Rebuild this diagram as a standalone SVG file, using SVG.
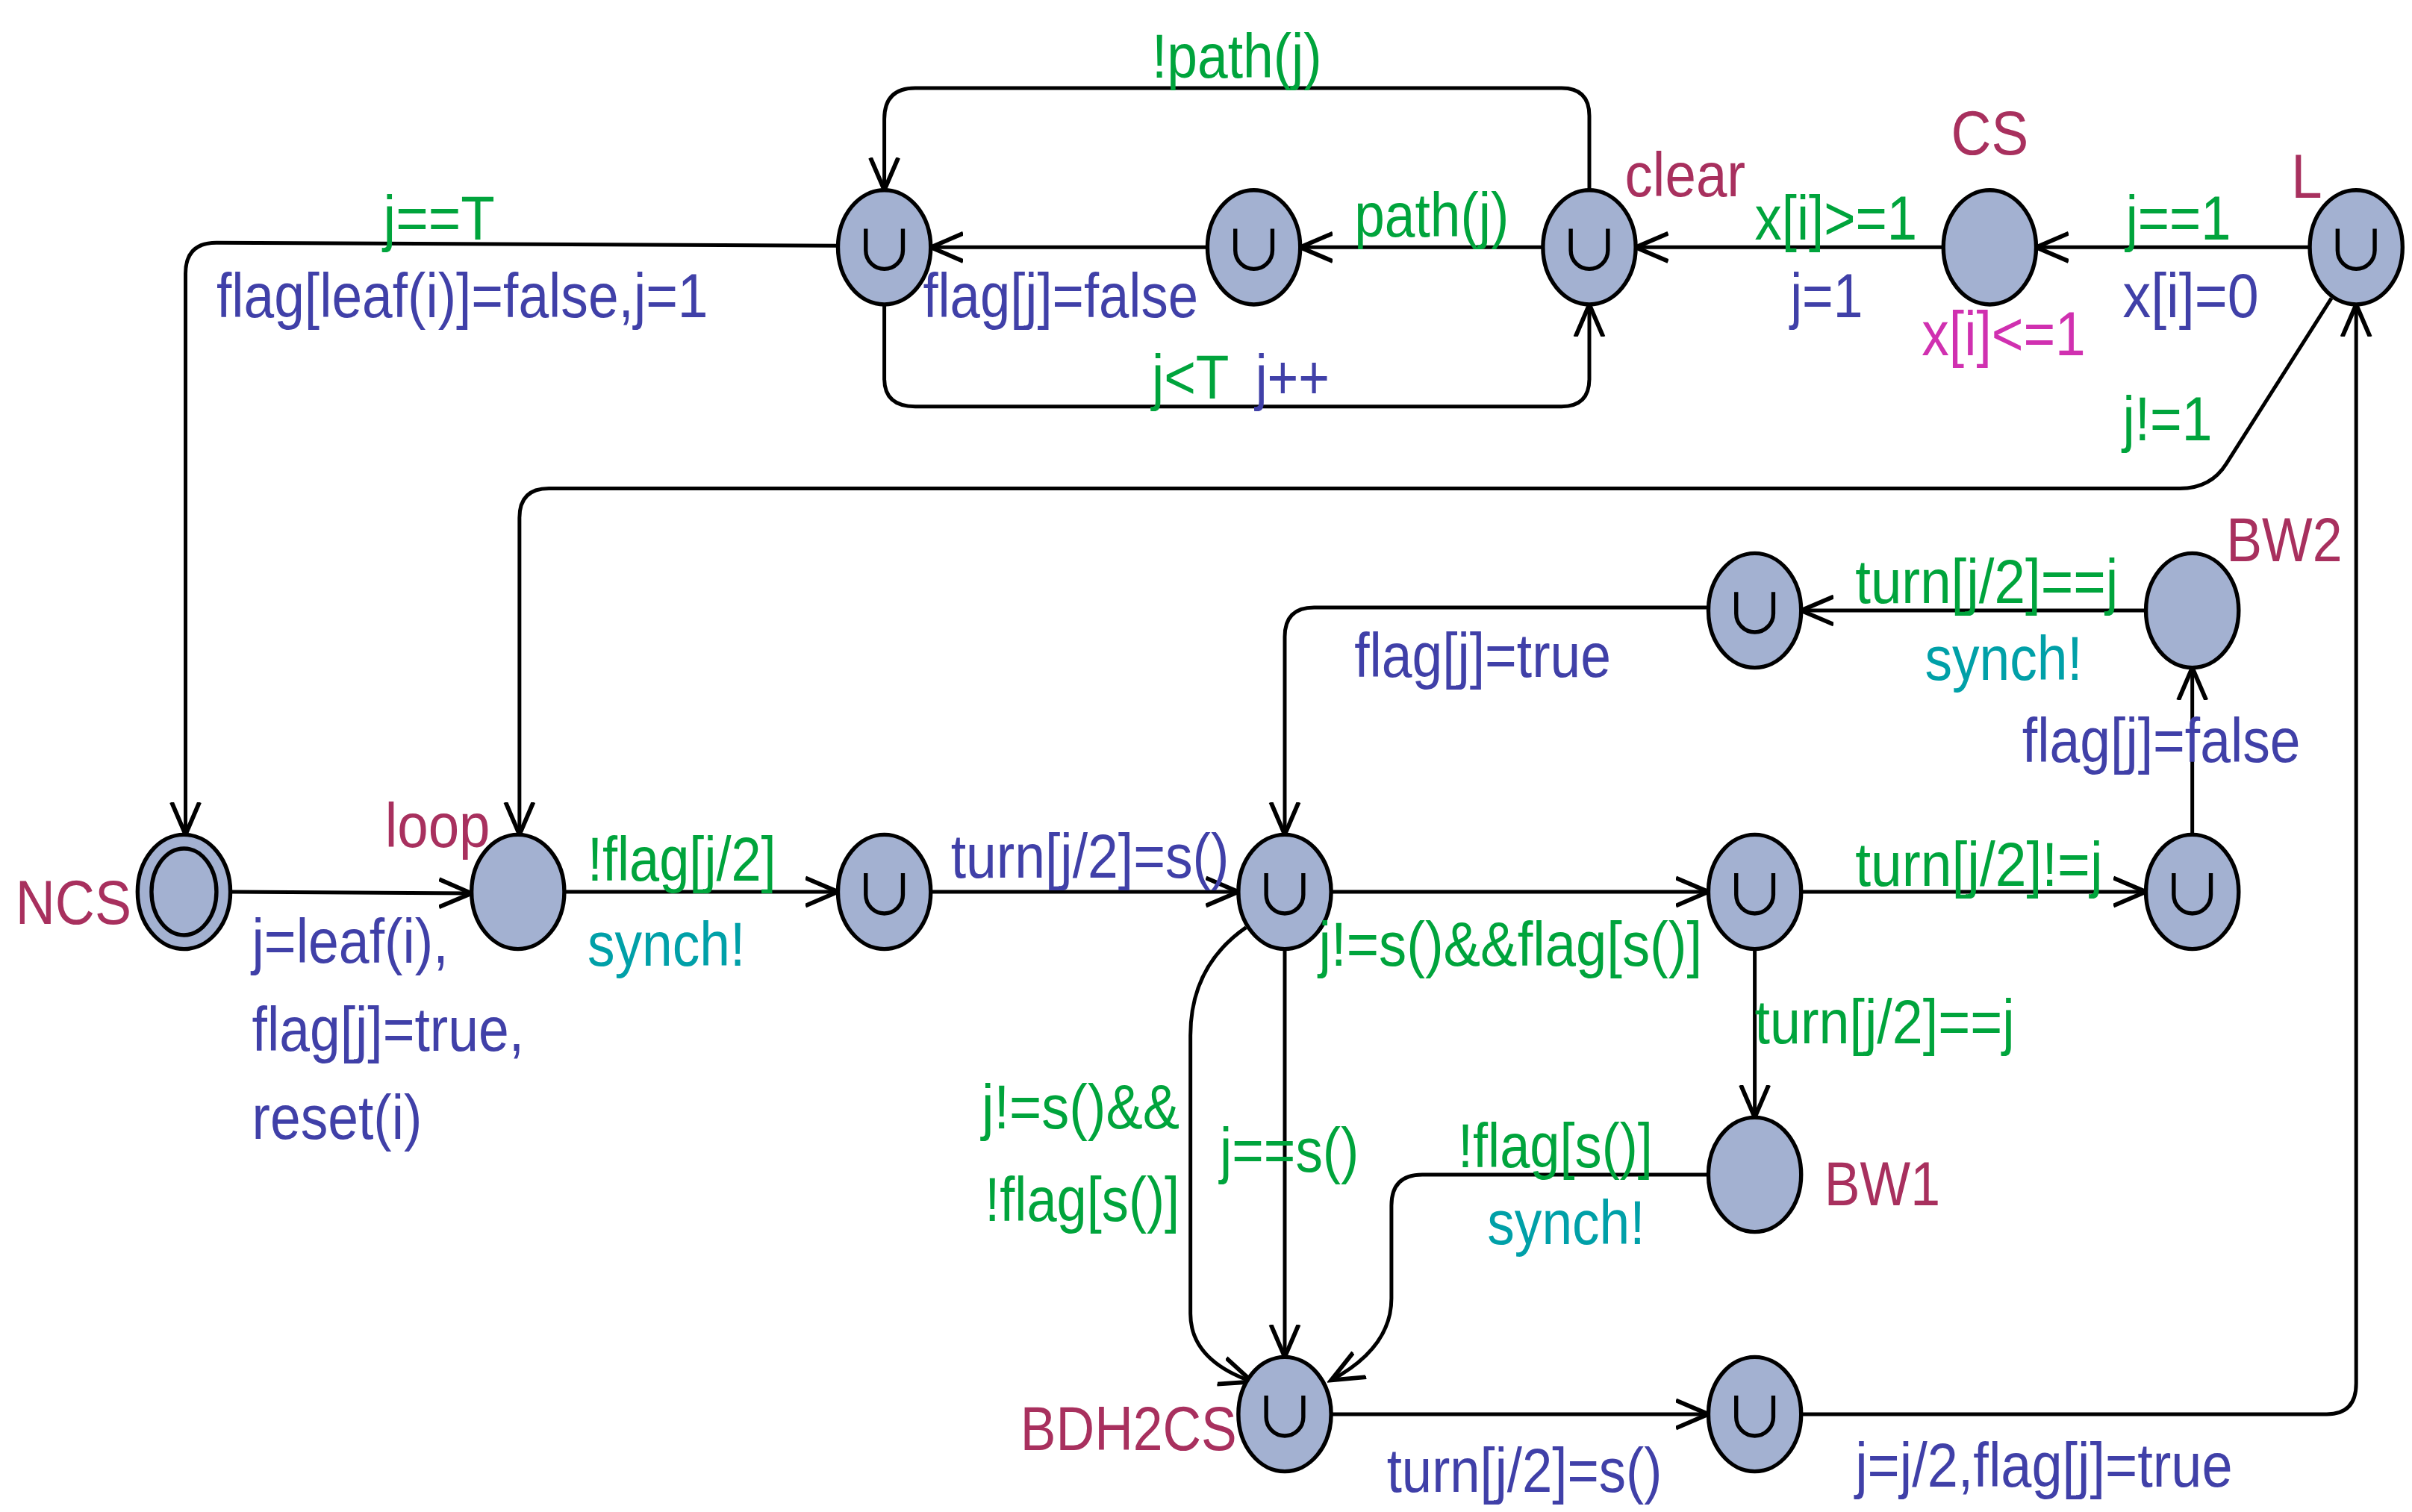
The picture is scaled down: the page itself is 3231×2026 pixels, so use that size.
<svg xmlns="http://www.w3.org/2000/svg" width="3231" height="2026" viewBox="0 0 3231 2026">
<style>
.n{fill:#a3b1d1;stroke:#000;stroke-width:2.6}
.u{fill:none;stroke:#000;stroke-width:2.6}
.e{fill:none;stroke:#000;stroke-width:2.4}
.a{marker-end:url(#ar)}
text{font-family:"Liberation Sans",Arial,sans-serif;font-size:40px}
.g{fill:#00a43c}.b{fill:#4040a8}.c{fill:#00a0a8}.m{fill:#d030b0}.nm{fill:#a8305e}
</style>
<defs>
<marker id="ar" markerUnits="userSpaceOnUse" markerWidth="24" markerHeight="24" refX="21" refY="10" orient="auto" viewBox="0 0 24 20">
<path d="M0,1 L21,10 L0,19" fill="none" stroke="#000" stroke-width="2.8"/>
</marker>
</defs>
<rect width="3231" height="2026" fill="#fff"/>
<g transform="scale(2.071)">
<g id="edges">
<path class="e a" d="M1494,160 H1317"/>
<path class="e a" d="M1257,160 H1058"/>
<path class="e a" d="M998,160 H841"/>
<path class="e a" d="M781,160 H602"/>
<path class="e a" d="M1028,123 V75 Q1028,57 1010,57 H592 Q572,57 572,77 V123"/>
<path class="e a" d="M572,197 V245 Q572,263 592,263 H1010 Q1028,263 1028,245 V197"/>
<path class="e a" d="M542,159 L140,157 Q120,157 120,177 V540"/>
<path class="e a" d="M1508,193 L1440,300 Q1430,316 1410,316 H355 Q336,316 336,335 V540"/>
<path class="e a" d="M149,577 L305,578"/>
<path class="e a" d="M365,577 H542"/>
<path class="e a" d="M602,577 H801"/>
<path class="e a" d="M861,577 H1105"/>
<path class="e a" d="M1165,577 H1388"/>
<path class="e a" d="M1418,540 V432"/>
<path class="e a" d="M1388,395 H1165"/>
<path class="e a" d="M1105,393 H850 Q831,393 831,412 V540"/>
<path class="e a" d="M1135,614 V723"/>
<path class="e a" d="M831,614 V878"/>
<path class="e a" d="M806,600 Q770,625 770,670 V850 Q770,880 810,894"/>
<path class="e a" d="M1105,760 H920 Q900,760 900,780 V840 Q900,872 861,893"/>
<path class="e a" d="M861,915 H1105"/>
<path class="e a" d="M1165,915 H1505 Q1524,915 1524,895 V197"/>
</g>
<g id="L"><ellipse class="n" cx="1524" cy="160" rx="30" ry="37"/><path class="u" d="M1512,148 V162 A12,12 0 0 0 1536,162 V148"/></g>
<g id="CS"><ellipse class="n" cx="1287" cy="160" rx="30" ry="37"/></g>
<g id="clear"><ellipse class="n" cx="1028" cy="160" rx="30" ry="37"/><path class="u" d="M1016,148 V162 A12,12 0 0 0 1040,162 V148"/></g>
<g id="n2"><ellipse class="n" cx="811" cy="160" rx="30" ry="37"/><path class="u" d="M799,148 V162 A12,12 0 0 0 823,162 V148"/></g>
<g id="n1"><ellipse class="n" cx="572" cy="160" rx="30" ry="37"/><path class="u" d="M560,148 V162 A12,12 0 0 0 584,162 V148"/></g>
<g id="NCS"><ellipse class="n" cx="119" cy="577" rx="30" ry="37"/><ellipse class="n" cx="119" cy="577" rx="21" ry="28"/></g>
<g id="loop"><ellipse class="n" cx="335" cy="577" rx="30" ry="37"/></g>
<g id="n3"><ellipse class="n" cx="572" cy="577" rx="30" ry="37"/><path class="u" d="M560,565 V579 A12,12 0 0 0 584,579 V565"/></g>
<g id="n4"><ellipse class="n" cx="831" cy="577" rx="30" ry="37"/><path class="u" d="M819,565 V579 A12,12 0 0 0 843,579 V565"/></g>
<g id="n5"><ellipse class="n" cx="1135" cy="577" rx="30" ry="37"/><path class="u" d="M1123,565 V579 A12,12 0 0 0 1147,579 V565"/></g>
<g id="n6"><ellipse class="n" cx="1418" cy="577" rx="30" ry="37"/><path class="u" d="M1406,565 V579 A12,12 0 0 0 1430,579 V565"/></g>
<g id="BW2"><ellipse class="n" cx="1418" cy="395" rx="30" ry="37"/></g>
<g id="n7"><ellipse class="n" cx="1135" cy="395" rx="30" ry="37"/><path class="u" d="M1123,383 V397 A12,12 0 0 0 1147,397 V383"/></g>
<g id="BW1"><ellipse class="n" cx="1135" cy="760" rx="30" ry="37"/></g>
<g id="BDH2CS"><ellipse class="n" cx="831" cy="915" rx="30" ry="37"/><path class="u" d="M819,903 V917 A12,12 0 0 0 843,917 V903"/></g>
<g id="n8"><ellipse class="n" cx="1135" cy="915" rx="30" ry="37"/><path class="u" d="M1123,903 V917 A12,12 0 0 0 1147,917 V903"/></g>
<g id="labels">
<text class="nm" x="1262" y="100" textLength="50" lengthAdjust="spacingAndGlyphs">CS</text>
<text class="nm" x="1051" y="127" textLength="78" lengthAdjust="spacingAndGlyphs">clear</text>
<text class="nm" x="1482" y="128" textLength="20" lengthAdjust="spacingAndGlyphs">L</text>
<text class="nm" x="1440" y="363" textLength="75" lengthAdjust="spacingAndGlyphs">BW2</text>
<text class="nm" x="249" y="548" textLength="68" lengthAdjust="spacingAndGlyphs">loop</text>
<text class="nm" x="10" y="598" textLength="75" lengthAdjust="spacingAndGlyphs">NCS</text>
<text class="nm" x="1180" y="780" textLength="75" lengthAdjust="spacingAndGlyphs">BW1</text>
<text class="nm" x="660" y="938" textLength="140" lengthAdjust="spacingAndGlyphs">BDH2CS</text>
<text class="g" x="745" y="50" textLength="110" lengthAdjust="spacingAndGlyphs">!path(j)</text>
<text class="g" x="248" y="155" textLength="72" lengthAdjust="spacingAndGlyphs">j==T</text>
<text class="g" x="876" y="153" textLength="100" lengthAdjust="spacingAndGlyphs">path(j)</text>
<text class="g" x="1135" y="155" textLength="105" lengthAdjust="spacingAndGlyphs">x[i]&gt;=1</text>
<text class="g" x="1375" y="155" textLength="68" lengthAdjust="spacingAndGlyphs">j==1</text>
<text class="g" x="745" y="258" textLength="50" lengthAdjust="spacingAndGlyphs">j&lt;T</text>
<text class="g" x="1373" y="285" textLength="58" lengthAdjust="spacingAndGlyphs">j!=1</text>
<text class="g" x="1200" y="390" textLength="170" lengthAdjust="spacingAndGlyphs">turn[j/2]==j</text>
<text class="g" x="380" y="570" textLength="122" lengthAdjust="spacingAndGlyphs">!flag[j/2]</text>
<text class="g" x="1200" y="573" textLength="160" lengthAdjust="spacingAndGlyphs">turn[j/2]!=j</text>
<text class="g" x="853" y="625" textLength="248" lengthAdjust="spacingAndGlyphs">j!=s()&amp;&amp;flag[s()]</text>
<text class="g" x="1135" y="675" textLength="168" lengthAdjust="spacingAndGlyphs">turn[j/2]==j</text>
<text class="g" x="635" y="730" textLength="128" lengthAdjust="spacingAndGlyphs">j!=s()&amp;&amp;</text>
<text class="g" x="637" y="790" textLength="126" lengthAdjust="spacingAndGlyphs">!flag[s()]</text>
<text class="g" x="789" y="758" textLength="90" lengthAdjust="spacingAndGlyphs">j==s()</text>
<text class="g" x="943" y="755" textLength="126" lengthAdjust="spacingAndGlyphs">!flag[s()]</text>
<text class="b" x="140" y="205" textLength="318" lengthAdjust="spacingAndGlyphs">flag[leaf(i)]=false,j=1</text>
<text class="b" x="597" y="205" textLength="178" lengthAdjust="spacingAndGlyphs">flag[j]=false</text>
<text class="b" x="1158" y="205" textLength="47" lengthAdjust="spacingAndGlyphs">j=1</text>
<text class="b" x="1373" y="205" textLength="88" lengthAdjust="spacingAndGlyphs">x[i]=0</text>
<text class="b" x="812" y="258" textLength="48" lengthAdjust="spacingAndGlyphs">j++</text>
<text class="b" x="876" y="438" textLength="166" lengthAdjust="spacingAndGlyphs">flag[j]=true</text>
<text class="b" x="1308" y="493" textLength="180" lengthAdjust="spacingAndGlyphs">flag[j]=false</text>
<text class="b" x="615" y="568" textLength="180" lengthAdjust="spacingAndGlyphs">turn[j/2]=s()</text>
<text class="b" x="163" y="623" textLength="127" lengthAdjust="spacingAndGlyphs">j=leaf(i),</text>
<text class="b" x="163" y="680" textLength="176" lengthAdjust="spacingAndGlyphs">flag[j]=true,</text>
<text class="b" x="163" y="737" textLength="110" lengthAdjust="spacingAndGlyphs">reset(i)</text>
<text class="b" x="897" y="965" textLength="178" lengthAdjust="spacingAndGlyphs">turn[j/2]=s()</text>
<text class="b" x="1200" y="962" textLength="244" lengthAdjust="spacingAndGlyphs">j=j/2,flag[j]=true</text>
<text class="c" x="380" y="625" textLength="102" lengthAdjust="spacingAndGlyphs">synch!</text>
<text class="c" x="1245" y="440" textLength="102" lengthAdjust="spacingAndGlyphs">synch!</text>
<text class="c" x="962" y="805" textLength="102" lengthAdjust="spacingAndGlyphs">synch!</text>
<text class="m" x="1243" y="230" textLength="106" lengthAdjust="spacingAndGlyphs">x[i]&lt;=1</text>
</g>
</g>
</svg>
